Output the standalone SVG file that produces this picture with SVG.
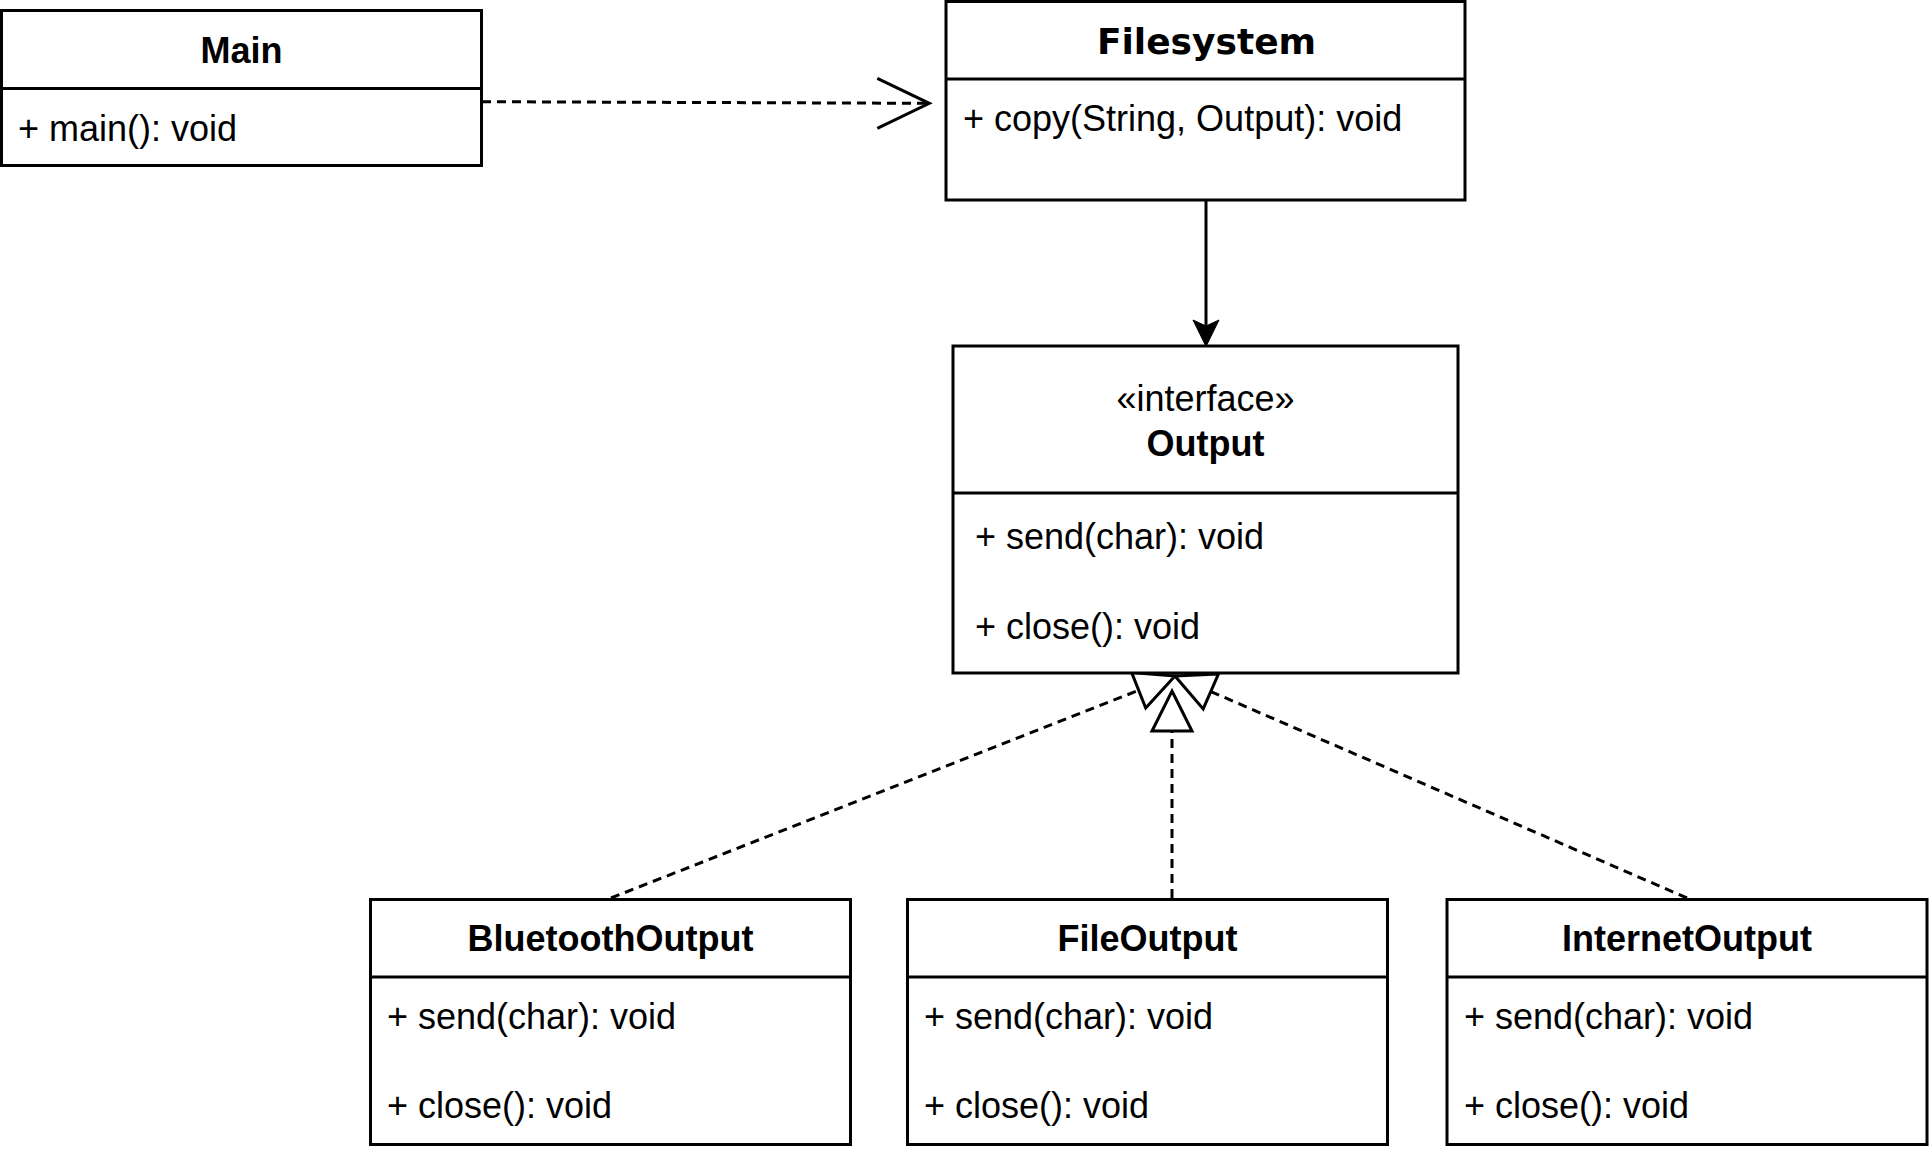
<svg xmlns="http://www.w3.org/2000/svg" width="1929" height="1155" viewBox="0 0 1929 1155">
  <style>
    .box { fill: #ffffff; stroke: #000000; stroke-width: 3; }
    .div { stroke: #000000; stroke-width: 3; fill: none; }
    .title { font-family: "Liberation Sans", Arial, sans-serif; font-size: 36px; font-weight: bold; text-anchor: middle; fill: #000; }
    .title2 { font-family: "DejaVu Sans", Verdana, sans-serif; font-size: 36px; font-weight: bold; text-anchor: middle; fill: #000; }
    .stereo { font-family: "Liberation Sans", Arial, sans-serif; font-size: 36px; text-anchor: middle; fill: #000; }
    .member { font-family: "Liberation Sans", Arial, sans-serif; font-size: 36px; fill: #000; }
    .edge { stroke: #000000; stroke-width: 3; fill: none; }
    .dash { stroke-dasharray: 9 6; }
    .hollow { fill: #ffffff; stroke: #000000; stroke-width: 3; stroke-linejoin: miter; }
  </style>
  <rect width="1929" height="1155" fill="#ffffff"/>

  <g id="connectors">
    <!-- Main -> Filesystem (dependency) -->
    <line class="edge dash" x1="482" y1="101.7" x2="928" y2="103.3"/>
    <polyline class="edge" points="877.3,78.3 929.3,103.3 877.3,128.3"/>
    <!-- Filesystem -> Output (association) -->
    <line class="edge" x1="1206" y1="200" x2="1206" y2="326"/>
    <path d="M1206,346.5 L1193,320 L1206,326 L1219,320 Z" fill="#000" stroke="#000" stroke-width="1"/>
    <!-- BluetoothOutput -> Output (realization) -->
    <line class="edge dash" x1="611" y1="898" x2="1138.7" y2="690.3"/>
    <polygon class="hollow" points="1175,676 1145.7,708 1131.7,672.6"/>
    <!-- FileOutput -> Output (realization) -->
    <line class="edge dash" x1="1172" y1="898" x2="1172" y2="731"/>
    <polygon class="hollow" points="1172,691 1192,731 1152,731"/>
    <!-- InternetOutput -> Output (realization) -->
    <line class="edge dash" x1="1687" y1="898" x2="1210.8" y2="691.5"/>
    <polygon class="hollow" points="1175,676 1218.4,674.1 1203.2,708.9"/>
  </g>

  <g id="main">
    <rect class="box" x="1.5" y="10.5" width="480" height="155"/>
    <line class="div" x1="1.5" y1="88.5" x2="481.5" y2="88.5"/>
    <text class="title" x="241.5" y="63">Main</text>
    <text class="member" x="18" y="141">+ main(): void</text>
  </g>

  <g id="filesystem">
    <rect class="box" x="946" y="1.5" width="519" height="198.5"/>
    <line class="div" x1="946" y1="79" x2="1465" y2="79"/>
    <text class="title2" x="1206.5" y="54">Filesystem</text>
    <text class="member" x="963" y="131">+ copy(String, Output): void</text>
  </g>

  <g id="output">
    <rect class="box" x="953" y="346" width="505" height="327"/>
    <line class="div" x1="953" y1="493" x2="1458" y2="493"/>
    <text class="stereo" x="1205.5" y="411">«interface»</text>
    <text class="title" x="1205.5" y="456">Output</text>
    <text class="member" x="975" y="549">+ send(char): void</text>
    <text class="member" x="975" y="639">+ close(): void</text>
  </g>

  <g id="bluetoothoutput">
    <rect class="box" x="370.5" y="899.5" width="480" height="245"/>
    <line class="div" x1="370.5" y1="977" x2="850.5" y2="977"/>
    <text class="title" x="610.5" y="951">BluetoothOutput</text>
    <text class="member" x="387" y="1028.5">+ send(char): void</text>
    <text class="member" x="387" y="1118">+ close(): void</text>
  </g>

  <g id="fileoutput">
    <rect class="box" x="907.5" y="899.5" width="480" height="245"/>
    <line class="div" x1="907.5" y1="977" x2="1387.5" y2="977"/>
    <text class="title" x="1147.5" y="951">FileOutput</text>
    <text class="member" x="924" y="1028.5">+ send(char): void</text>
    <text class="member" x="924" y="1118">+ close(): void</text>
  </g>

  <g id="internetoutput">
    <rect class="box" x="1447" y="899.5" width="480" height="245"/>
    <line class="div" x1="1447" y1="977" x2="1927" y2="977"/>
    <text class="title" x="1687" y="951">InternetOutput</text>
    <text class="member" x="1464" y="1028.5">+ send(char): void</text>
    <text class="member" x="1464" y="1118">+ close(): void</text>
  </g>
</svg>
